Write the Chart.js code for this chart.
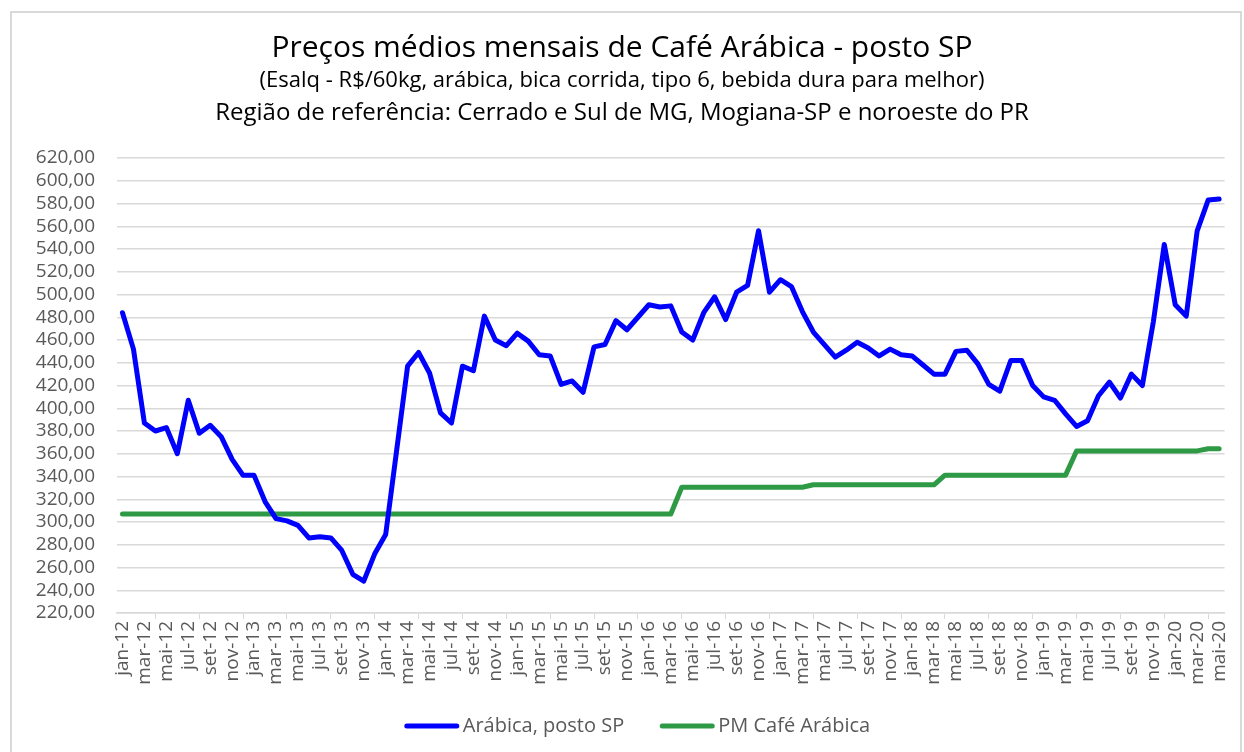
<!DOCTYPE html>
<html lang="pt-BR">
<head>
<meta charset="utf-8">
<title>Preços médios mensais de Café Arábica - posto SP</title>
<script src="https://cdn.jsdelivr.net/npm/chart.js@4.4.1/dist/chart.umd.min.js"></script>
<style>
  html, body { margin: 0; padding: 0; background: #ffffff; }
  #moldura {
    position: absolute; left: 10px; top: 11px;
    width: 1228px; height: 800px;
    border: 2px solid #d9d9d9;
  }
  #grafico { position: absolute; left: 0; top: 0; }
</style>
</head>
<body>
<div id="moldura"></div>
<canvas id="grafico" width="1244" height="752"></canvas>
<script>
// Títulos do gráfico
const titulo = 'Preços médios mensais de Café Arábica - posto SP';
const subtitulo1 = '(Esalq - R$/60kg, arábica, bica corrida, tipo 6, bebida dura para melhor)';
const subtitulo2 = 'Região de referência: Cerrado e Sul de MG, Mogiana-SP e noroeste do PR';

// Eixo x: jan-12 até mai-20 (mensal)
const meses = ['jan', 'fev', 'mar', 'abr', 'mai', 'jun', 'jul', 'ago', 'set', 'out', 'nov', 'dez'];
const anos = ['12', '13', '14', '15', '16', '17', '18', '19', '20'];
const rotulosMeses = [];
anos.forEach(a => meses.forEach(m => rotulosMeses.push(m + '-' + a)));
rotulosMeses.length = 101; // termina em mai-20

// Preços (R$/60kg)
const precoArabica = [
  484, 452, 387, 380, 383, 360, 407, 378, 385, 375, 355, 341,   // 2012
  341, 318, 303, 301, 297, 286, 287, 286, 275, 254, 248, 272,   // 2013
  289, 363, 437, 449, 431, 396, 387, 437, 433, 481, 460, 455,   // 2014
  466, 459, 447, 446, 421, 424, 414, 454, 456, 477, 469, 480,   // 2015
  491, 489, 490, 467, 460, 484, 498, 478, 502, 508, 556, 502,   // 2016
  513, 507, 485, 467, 456, 445, 451, 458, 453, 446, 452, 447,   // 2017
  446, 438, 430, 430, 450, 451, 439, 421, 415, 442, 442, 420,   // 2018
  410, 407, 395, 384, 389, 411, 423, 409, 430, 420, 476, 544,   // 2019
  491, 481, 556, 583, 584                                       // 2020
];

// Preço mínimo (PM Café Arábica)
const precoMinimo = [
  307, 307, 307, 307, 307, 307, 307, 307, 307, 307, 307, 307,
  307, 307, 307, 307, 307, 307, 307, 307, 307, 307, 307, 307,
  307, 307, 307, 307, 307, 307, 307, 307, 307, 307, 307, 307,
  307, 307, 307, 307, 307, 307, 307, 307, 307, 307, 307, 307,
  307, 307, 307, 330.5, 330.5, 330.5, 330.5, 330.5, 330.5, 330.5, 330.5, 330.5,
  330.5, 330.5, 330.5, 332.7, 332.7, 332.7, 332.7, 332.7, 332.7, 332.7, 332.7, 332.7,
  332.7, 332.7, 332.7, 341.2, 341.2, 341.2, 341.2, 341.2, 341.2, 341.2, 341.2, 341.2,
  341.2, 341.2, 341.2, 362.5, 362.5, 362.5, 362.5, 362.5, 362.5, 362.5, 362.5, 362.5,
  362.5, 362.5, 362.5, 364.4, 364.4
];

const corTexto = '#595959';
const corGrade = '#d9d9d9';

// Plugin simples: títulos no topo e legenda no estilo do Excel
const titulosELegenda = {
  id: 'titulosELegenda',
  afterDraw(chart) {
    const ctx = chart.ctx;
    const cx = 622;
    ctx.save();
    ctx.textAlign = 'center';
    ctx.textBaseline = 'middle';
    ctx.fillStyle = '#000000';
    ctx.font = '30px "Open Sans"';
    ctx.fillText(titulo, cx, 48);
    ctx.font = '22px "Open Sans"';
    ctx.fillText(subtitulo1, cx, 81);
    ctx.font = '24px "Open Sans"';
    ctx.fillText(subtitulo2, cx, 113);

    // legenda
    ctx.font = '20px "Open Sans"';
    const itens = chart.data.datasets.map(ds => ({
      texto: ds.label, cor: ds.borderColor,
      largura: 56 + 3 + ctx.measureText(ds.label).width
    }));
    const espaco = 35;
    let total = itens.reduce((s, it) => s + it.largura, 0) + espaco * (itens.length - 1);
    let x = 637 - total / 2;
    const y = 726;
    ctx.textAlign = 'left';
    itens.forEach(it => {
      ctx.strokeStyle = it.cor;
      ctx.lineWidth = 5;
      ctx.lineCap = 'round';
      ctx.beginPath();
      ctx.moveTo(x + 3, y);
      ctx.lineTo(x + 53, y);
      ctx.stroke();
      ctx.fillStyle = corTexto;
      ctx.fillText(it.texto, x + 59, y);
      x += it.largura + espaco;
    });
    ctx.restore();
  }
};

const ctx = document.getElementById('grafico').getContext('2d');
new Chart(ctx, {
  type: 'line',
  data: {
    labels: rotulosMeses,
    datasets: [
      {
        label: 'Arábica, posto SP',
        data: precoArabica,
        borderColor: '#0000ff',
        borderWidth: 5,
        pointRadius: 0,
        tension: 0,
        borderJoinStyle: 'round',
        borderCapStyle: 'round'
      },
      {
        label: 'PM Café Arábica',
        data: precoMinimo,
        borderColor: '#2e9a45',
        borderWidth: 5,
        pointRadius: 0,
        tension: 0,
        borderJoinStyle: 'round',
        borderCapStyle: 'round'
      }
    ]
  },
  options: {
    responsive: false,
    animation: false,
    layout: { padding: { top: 158, right: 17, bottom: 0, left: 0 } },
    plugins: {
      legend: { display: false },
      title: { display: false },
      tooltip: { enabled: false }
    },
    scales: {
      x: {
        type: 'category',
        offset: true,
        afterFit: s => { s.height = 139; },
        grid: {
          offset: true,
          drawOnChartArea: false,
          tickLength: 6,
          tickColor: c => (c.index % 2 === 0 ? corGrade : 'rgba(0,0,0,0)')
        },
        border: { color: corGrade, width: 1.5 },
        ticks: {
          autoSkip: false,
          maxRotation: 90,
          minRotation: 90,
          padding: 2,
          color: corTexto,
          font: { family: 'Open Sans', size: 19 },
          callback: function(v, i) { return i % 2 === 0 ? this.getLabelForValue(v) : null; }
        }
      },
      y: {
        min: 220,
        max: 620,
        afterFit: s => { s.width = 117; },
        grid: { color: corGrade, lineWidth: 1.5, drawTicks: false },
        border: { display: false },
        ticks: {
          stepSize: 20,
          autoSkip: false,
          padding: 22,
          color: corTexto,
          font: { family: 'Open Sans', size: 19 },
          callback: v => v.toFixed(2).replace('.', ',')
        }
      }
    }
  },
  plugins: [titulosELegenda]
});
</script>
</body>
</html>
